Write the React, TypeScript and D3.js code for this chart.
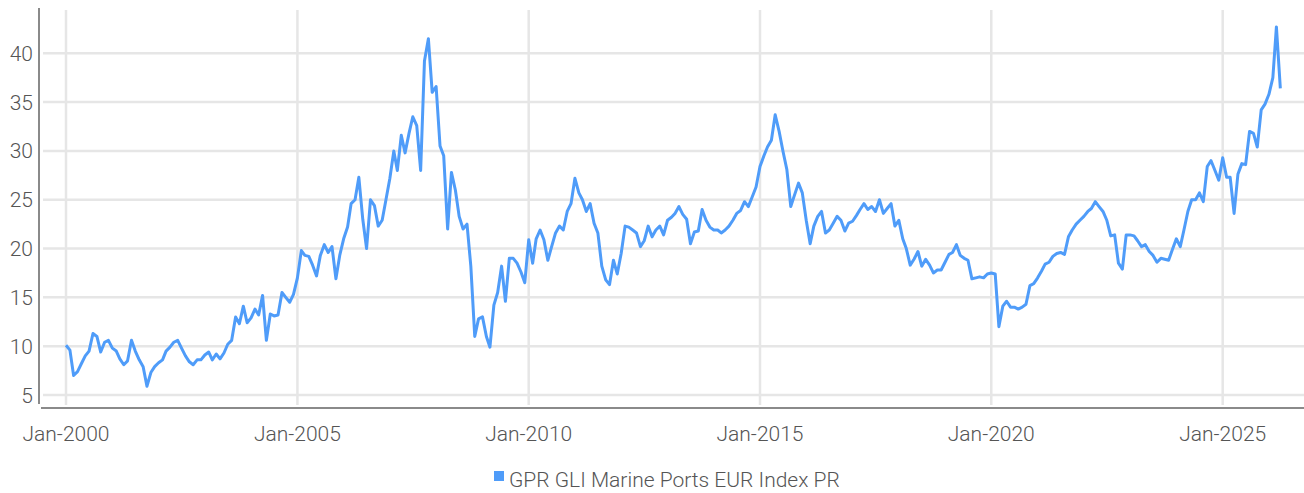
import React, { useEffect, useRef } from 'react';
import * as d3 from 'd3';

// series name shown in the legend
const seriesName = 'GPR GLI Marine Ports EUR Index PR';
const seriesColor = '#4f9cf9';

// first month of the series, values are month-end readings
const firstMonth = new Date(2000, 0, 1);

// monthly index level, one row per year (Jan..Dec)
const values: number[] = [
  10.1, 9.6, 7.0, 7.4, 8.2, 9.0, 9.5, 11.3, 11.0, 9.4, 10.4, 10.6, // 2000
  9.8, 9.5, 8.7, 8.1, 8.5, 10.6, 9.5, 8.6, 7.9, 5.9, 7.3, 7.9, // 2001
  8.3, 8.6, 9.5, 9.9, 10.4, 10.6, 9.8, 9.0, 8.4, 8.1, 8.6, 8.6, // 2002
  9.1, 9.4, 8.6, 9.2, 8.7, 9.3, 10.2, 10.6, 13.0, 12.3, 14.1, 12.4, // 2003
  12.9, 13.8, 13.2, 15.2, 10.6, 13.3, 13.1, 13.2, 15.5, 15.0, 14.5, 15.3, // 2004
  17.0, 19.8, 19.3, 19.2, 18.3, 17.2, 19.3, 20.4, 19.6, 20.2, 16.9, 19.3, // 2005
  21.0, 22.2, 24.6, 25.0, 27.3, 23.0, 20.0, 25.0, 24.4, 22.3, 22.9, 25.0, // 2006
  27.2, 30.0, 28.0, 31.6, 29.8, 31.8, 33.5, 32.6, 28.0, 39.2, 41.5, 36.0, // 2007
  36.6, 30.5, 29.5, 22.0, 27.8, 26.0, 23.3, 22.0, 22.5, 18.2, 11.0, 12.8, // 2008
  13.0, 11.0, 9.9, 14.2, 15.5, 18.2, 14.6, 19.0, 19.0, 18.5, 17.6, 16.5, // 2009
  20.9, 18.5, 21.0, 21.9, 20.9, 18.8, 20.2, 21.6, 22.3, 21.9, 23.8, 24.6, // 2010
  27.2, 25.7, 25.0, 23.8, 24.6, 22.6, 21.6, 18.2, 16.8, 16.3, 18.8, 17.4, // 2011
  19.5, 22.3, 22.2, 21.9, 21.6, 20.2, 20.8, 22.3, 21.2, 21.9, 22.3, 21.4, // 2012
  22.9, 23.2, 23.6, 24.3, 23.5, 23.0, 20.5, 21.7, 21.8, 24.0, 22.9, 22.2, // 2013
  21.9, 21.9, 21.6, 21.9, 22.3, 22.9, 23.6, 23.9, 24.8, 24.3, 25.3, 26.3, // 2014
  28.4, 29.5, 30.4, 31.1, 33.7, 32.0, 30.0, 28.1, 24.3, 25.5, 26.7, 25.7, // 2015
  22.9, 20.5, 22.3, 23.3, 23.8, 21.6, 21.9, 22.6, 23.3, 22.9, 21.8, 22.6, // 2016
  22.8, 23.4, 24.0, 24.6, 24.0, 24.3, 23.8, 25.0, 23.6, 24.1, 24.6, 22.3, // 2017
  22.9, 21.0, 20.0, 18.3, 18.9, 19.7, 18.2, 18.9, 18.3, 17.5, 17.8, 17.8, // 2018
  18.6, 19.4, 19.6, 20.4, 19.3, 19.0, 18.8, 16.9, 17.0, 17.1, 17.0, 17.4, // 2019
  17.5, 17.4, 12.0, 14.1, 14.6, 14.0, 14.0, 13.8, 14.0, 14.3, 16.2, 16.4, // 2020
  17.0, 17.7, 18.4, 18.6, 19.2, 19.5, 19.6, 19.4, 21.2, 21.9, 22.5, 22.9, // 2021
  23.3, 23.8, 24.1, 24.8, 24.3, 23.8, 22.9, 21.3, 21.4, 18.5, 17.9, 21.4, // 2022
  21.4, 21.3, 20.8, 20.2, 20.4, 19.7, 19.3, 18.6, 19.0, 18.9, 18.8, 19.9, // 2023
  21.0, 20.2, 21.9, 23.8, 25.0, 25.0, 25.7, 24.8, 28.4, 29.0, 28.0, 27.0, // 2024
  29.3, 27.3, 27.3, 23.6, 27.6, 28.7, 28.6, 32.0, 31.8, 30.4, 34.2, 34.8, // 2025
  35.8, 37.5, 42.7, 36.4, // 2026
];

// axis ticks
const yTicks = [5, 10, 15, 20, 25, 30, 35, 40];
const xTickYears = [2000, 2005, 2010, 2015, 2020, 2025];

const W = 1304;
const H = 493;
const FONT = 'Roboto, "Noto Sans", sans-serif';

const App: React.FC = () => {
  const svgRef = useRef<SVGSVGElement>(null);

  useEffect(() => {
    if (!svgRef.current) return;
    const svg = d3.select(svgRef.current);
    svg.selectAll('*').remove();

    const data = values.map((v, i) => ({ date: d3.timeMonth.offset(firstMonth, i), value: v }));

    // plot frame
    const left = 39;
    const right = W;
    const top = 8;
    const bottom = 408;

    const x = d3
      .scaleTime()
      .domain([new Date(2000, 0, 1), new Date(2025, 0, 1)])
      .range([66, 1222.7]);
    const y = d3.scaleLinear().domain([5, 40]).range([395, 53.3]);

    // horizontal grid
    svg
      .append('g')
      .selectAll('line')
      .data(yTicks)
      .enter()
      .append('line')
      .attr('x1', left + 4)
      .attr('x2', right)
      .attr('y1', (d) => y(d))
      .attr('y2', (d) => y(d))
      .attr('stroke', '#e6e6e6')
      .attr('stroke-width', 2.5);

    // vertical grid
    svg
      .append('g')
      .selectAll('line')
      .data(xTickYears)
      .enter()
      .append('line')
      .attr('x1', (d) => x(new Date(d, 0, 1)))
      .attr('x2', (d) => x(new Date(d, 0, 1)))
      .attr('y1', top + 2)
      .attr('y2', bottom - 3)
      .attr('stroke', '#e6e6e6')
      .attr('stroke-width', 2.5);

    // axis lines
    svg
      .append('line')
      .attr('x1', left)
      .attr('x2', left)
      .attr('y1', top)
      .attr('y2', bottom - 4)
      .attr('stroke', '#8a8a8a')
      .attr('stroke-width', 2);
    svg
      .append('line')
      .attr('x1', left + 2)
      .attr('x2', right)
      .attr('y1', bottom)
      .attr('y2', bottom)
      .attr('stroke', '#8a8a8a')
      .attr('stroke-width', 2);

    // y labels
    svg
      .append('g')
      .selectAll('text')
      .data(yTicks)
      .enter()
      .append('text')
      .attr('x', 33)
      .attr('y', (d) => y(d))
      .attr('dy', '0.36em')
      .attr('text-anchor', 'end')
      .style('font-family', FONT)
      .style('font-weight', 300)
      .style('font-size', '21px')
      .style('fill', '#555')
      .text((d) => d);

    // x labels
    const fmt = d3.timeFormat('%b-%Y');
    svg
      .append('g')
      .selectAll('text')
      .data(xTickYears)
      .enter()
      .append('text')
      .attr('x', (d) => x(new Date(d, 0, 1)))
      .attr('y', 441)
      .attr('text-anchor', 'middle')
      .style('font-family', FONT)
      .style('font-weight', 300)
      .style('font-size', '21px')
      .style('fill', '#555')
      .text((d) => fmt(new Date(d, 0, 1)));

    // series line
    const line = d3
      .line<{ date: Date; value: number }>()
      .x((d) => x(d.date))
      .y((d) => y(d.value));
    svg
      .append('path')
      .datum(data)
      .attr('d', line)
      .attr('fill', 'none')
      .attr('stroke', seriesColor)
      .attr('stroke-width', 3)
      .attr('stroke-linejoin', 'round');

    // legend
    const legend = svg.append('g').attr('transform', 'translate(494,471)');
    legend.append('rect').attr('width', 10).attr('height', 10).attr('fill', seriesColor);
    legend
      .append('text')
      .attr('x', 15)
      .attr('y', 16)
      .style('font-family', FONT)
      .style('font-weight', 300)
      .style('font-size', '21px')
      .style('fill', '#555')
      .text(seriesName);
  }, []);

  return (
    <svg
      ref={svgRef}
      width={W}
      height={H}
      style={{ position: 'absolute', left: 0, top: 0, background: '#fff' }}
    />
  );
};

export default App;
